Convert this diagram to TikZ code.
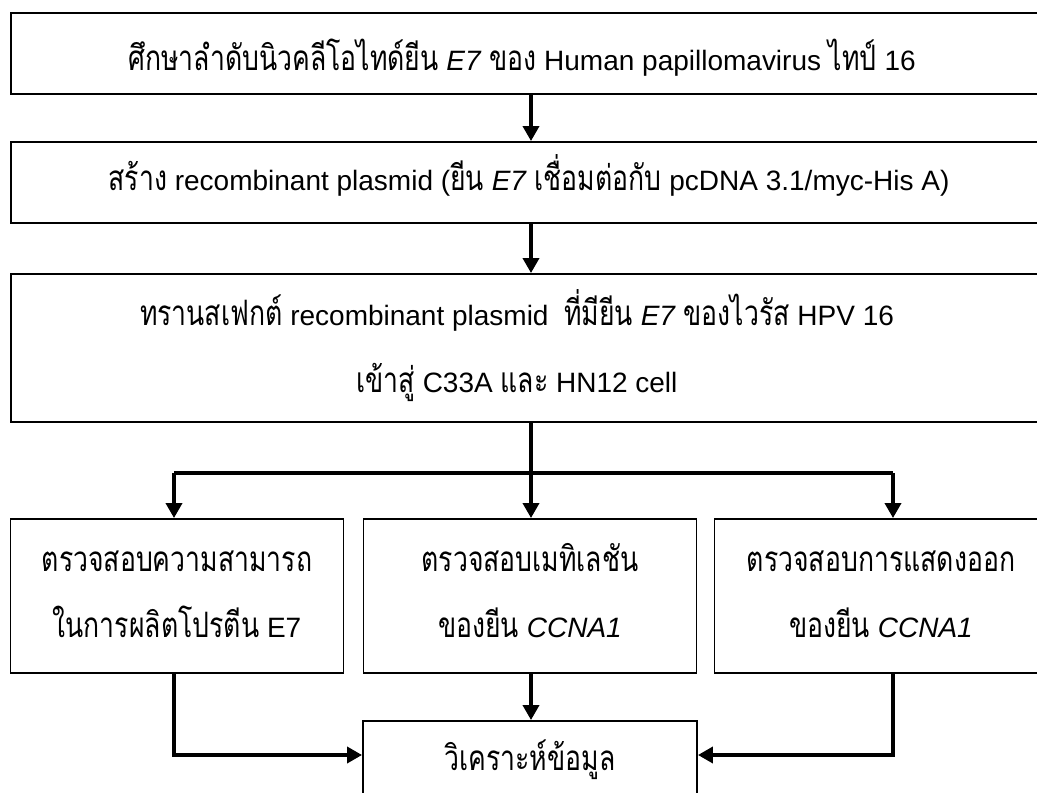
\documentclass[tikz,border=0pt]{standalone}
\usepackage{fontspec}
\setmainfont{Liberation Sans}
\newfontfamily\thf[Script=Thai,Scale=1.25,FakeStretch=0.76]{Loma}
\usetikzlibrary{arrows.meta}
\begin{document}
\begin{tikzpicture}[x=1pt,y=-1pt,
  box/.style={draw,line width=1.9pt,inner sep=0pt},
  wide/.style={box,minimum width=1036pt},
  small/.style={box,minimum width=333pt,minimum height=154pt},
  txt/.style={anchor=base,inner sep=0pt,font=\fontsize{28}{33}\selectfont},
  conn/.style={line width=3.6pt},
  arr/.style={conn,-{Triangle[length=15pt,width=16pt]}}
]
\useasboundingbox (0,0) rectangle (1037,793);
\clip (0,0) rectangle (1037,793);
\fill[white] (0,0) rectangle (1037,793);

% boxes
\node[wide,minimum height=81pt] (b1) at (529,53.5) {};
\node[wide,minimum height=81pt] (b2) at (529,182.5) {};
\node[wide,minimum height=148pt] (b3) at (529,348) {};
\node[small] (L) at (177,596) {};
\node[small] (M) at (530,596) {};
\node[small] (R) at (881,596) {};
\node[box,minimum width=334pt,minimum height=88pt] (B) at (530,765) {};

% texts
\node[txt] (t1) at (522,70) {{\thf ศึกษาลำดับนิวคลีโอไทด์ยีน} \textit{E7} {\thf ของ} Human papillomavirus {\thf ไทป์} 16};
\node[txt] (t2) at (529,190) {{\thf สร้าง} recombinant plasmid ({\thf ยีน} \textit{E7} {\thf เชื่อมต่อกับ} pcDNA 3.1/myc-His A)};
\node[txt] (t3a) at (517,325) {{\thf ทรานสเฟกต์} recombinant plasmid\ \ {\thf ที่มียีน} \textit{E7} {\thf ของไวรัส} HPV 16};
\node[txt] (t3b) at (517,392) {{\thf เข้าสู่} C33A {\thf และ} HN12 cell};
\node[txt] (tLa) at (177,571) {\thf ตรวจสอบความสามารถ};
\node[txt] (tLb) at (177,637) {{\thf ในการผลิตโปรตีน} E7};
\node[txt] (tMa) at (530,571) {\thf ตรวจสอบเมทิเลชัน};
\node[txt] (tMb) at (530,637) {{\thf ของยีน} \textit{CCNA1}};
\node[txt] (tRa) at (881,571) {\thf ตรวจสอบการแสดงออก};
\node[txt] (tRb) at (881,637) {{\thf ของยีน} \textit{CCNA1}};
\node[txt] (tB) at (530,770) {\thf วิเคราะห์ข้อมูล};

% connectors
\coordinate (xm) at (531,0);
\coordinate (jl) at (174,473);
\coordinate (jr) at (893,473);
\coordinate (kl) at (174,755);
\coordinate (kr) at (893,755);
\draw[arr] (xm |- b1.south) -- (xm |- b2.north);
\draw[arr] (xm |- b2.south) -- (xm |- b3.north);
\draw[arr] (xm |- b3.south) -- (xm |- M.north);
\draw[conn] (jl) -- (jr);
\draw[arr] (jl) -- (jl |- L.north);
\draw[arr] (jr) -- (jr |- R.north);
\draw[arr] (xm |- M.south) -- (xm |- B.north);
\draw[arr] (jl |- L.south) -- (kl) -- (kl -| B.west);
\draw[arr] (jr |- R.south) -- (kr) -- (kr -| B.east);
\end{tikzpicture}
\end{document}
